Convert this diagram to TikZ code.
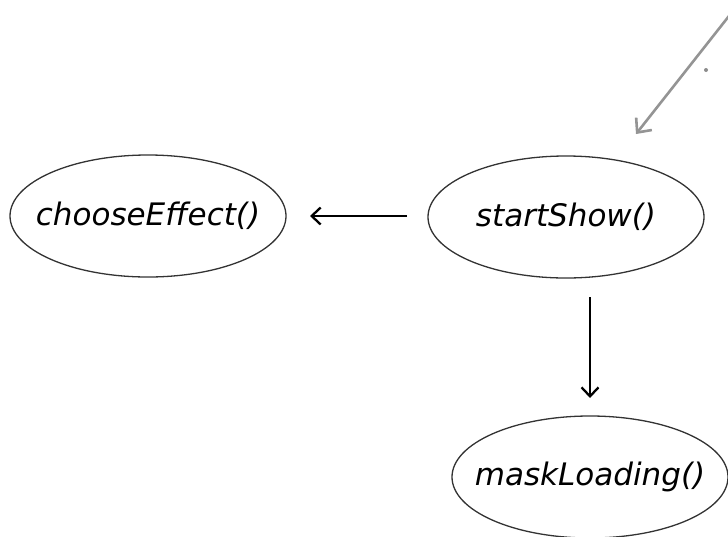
\documentclass[tikz,border=0pt]{standalone}
\usepackage{fontspec}
\setmainfont{DejaVu Sans}
\usetikzlibrary{arrows.meta,shapes.geometric}
\begin{document}
\begin{tikzpicture}[x=1pt,y=-1pt,
  func/.style={ellipse, draw=black!80, line width=1.3pt, minimum width=276pt, minimum height=122pt, inner sep=0pt},
  fname/.style={font=\fontsize{31}{36}\selectfont\itshape, inner sep=0pt},
  call/.style={line width=2.3pt, -{Straight Barb[length=9pt,width=17pt,line width=2.3pt]}},
  hint/.style={draw=black!42, line width=2.6pt, -{Straight Barb[length=11pt,width=20pt,line width=2.6pt]}}]
\useasboundingbox (0,0) rectangle (728,536);
\node[func, label={[fname]center:chooseEffect()}] (choose) at (148,216) {};
\node[func, label={[fname]center:startShow()}] (start) at (566,217) {};
\node[func, label={[fname]center:maskLoading()}] (mask) at (590,477) {};
\coordinate (hintfrom) at (740,2);
\coordinate (hintto) at (636,134);
\coordinate (dot) at (706,70);
\coordinate (lfrom) at (407,216);
\coordinate (lto) at (310,216);
\coordinate (dfrom) at (590,297);
\coordinate (dto) at (590,398);
\draw[call] (lfrom) -- (lto);
\draw[call] (dfrom) -- (dto);
\draw[hint] (hintfrom) -- (hintto);
\fill[black!45] (dot) circle (2pt);
\end{tikzpicture}
\end{document}
